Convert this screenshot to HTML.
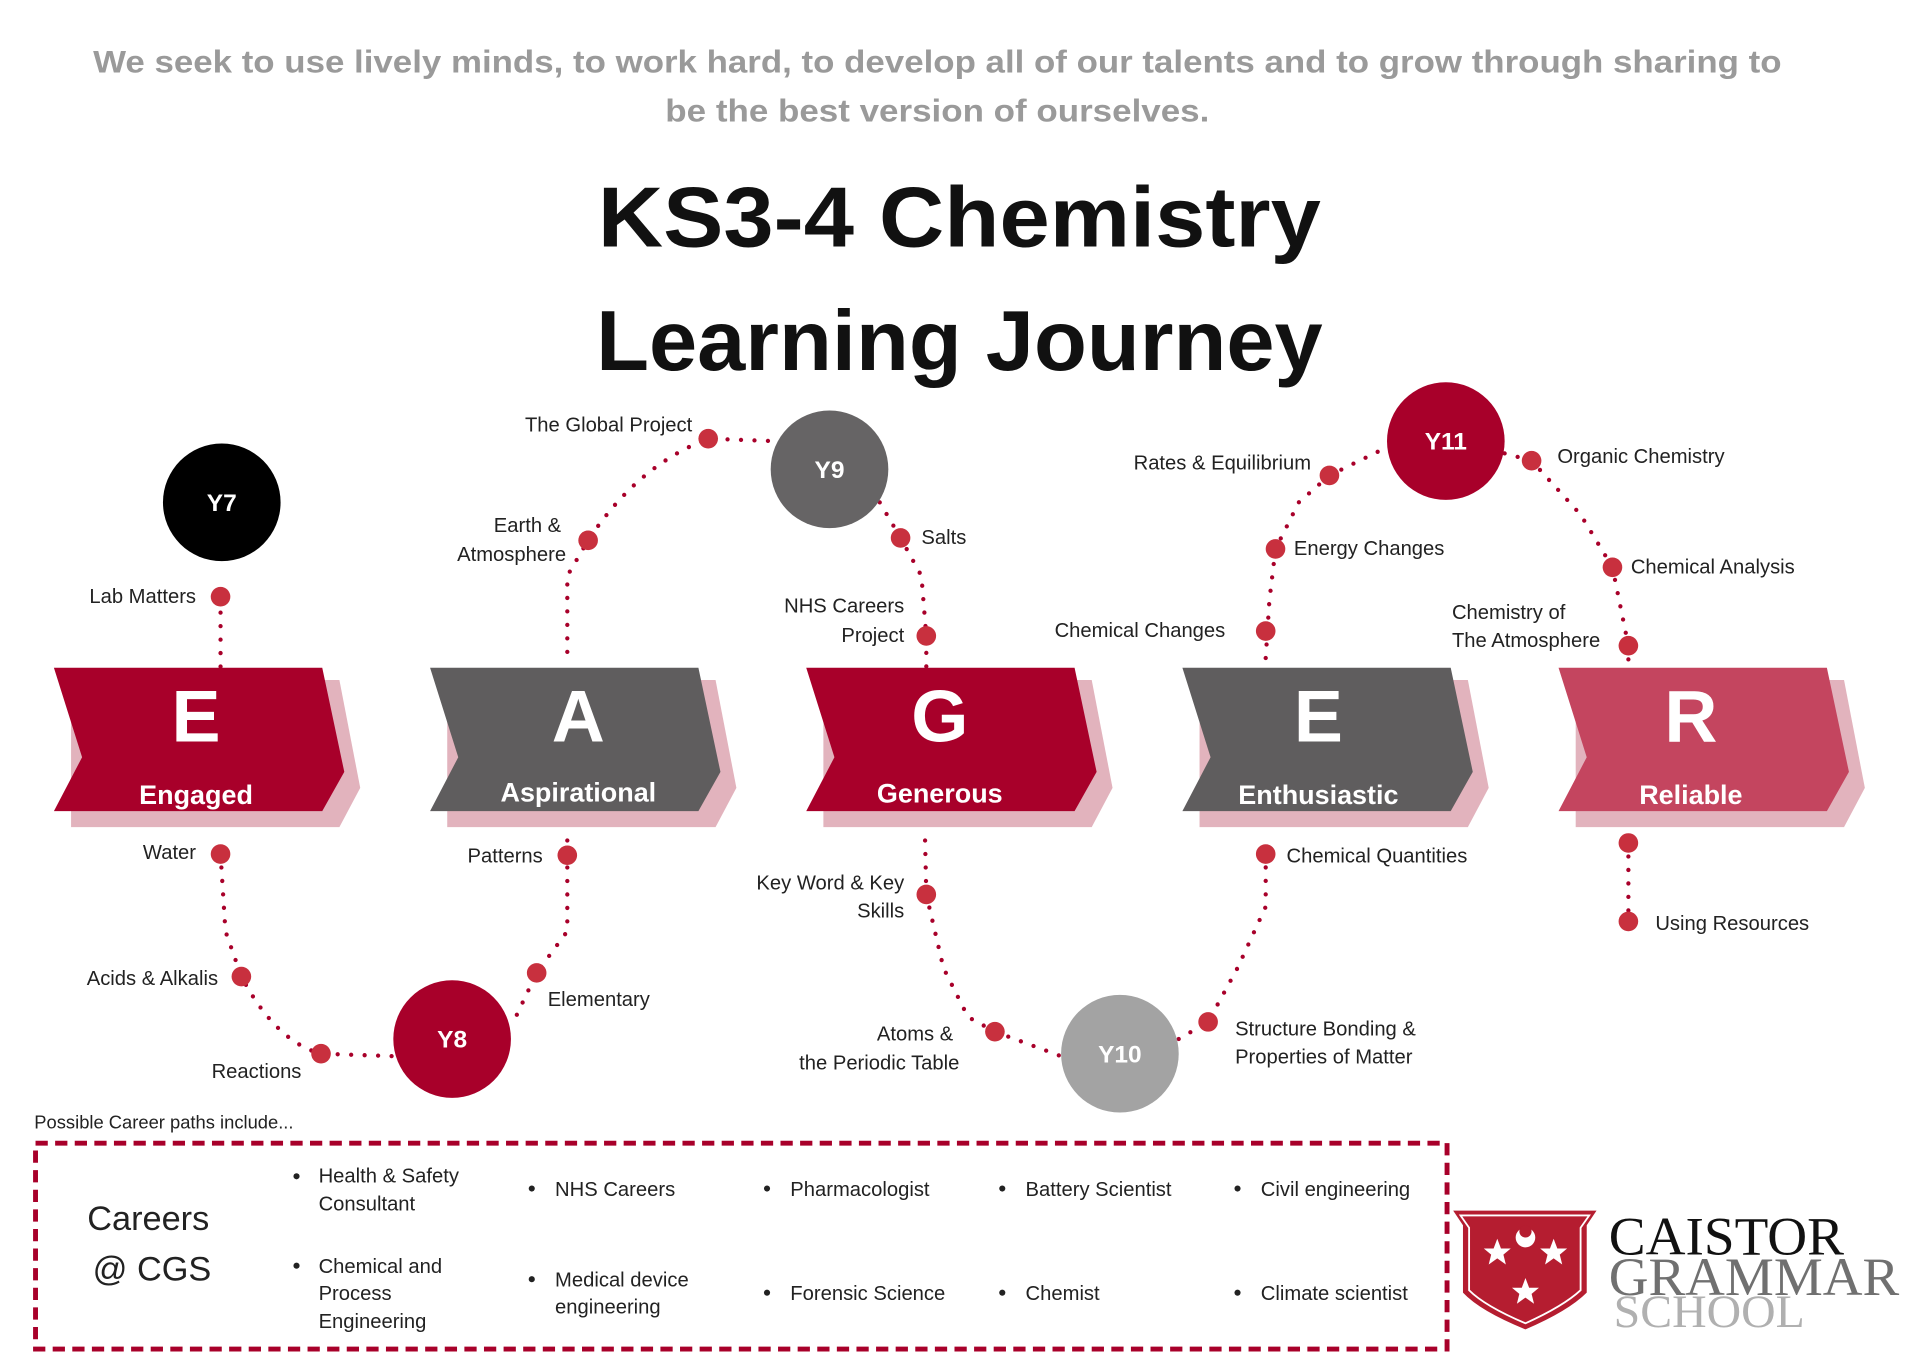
<!DOCTYPE html>
<html><head><meta charset="utf-8"><style>
html,body{margin:0;padding:0;background:#fff}
svg{display:block}
text{font-family:"Liberation Sans",sans-serif}
text.serif{font-family:"Liberation Serif",serif}
.l{font-size:16.5px;fill:#222}
.y{font-size:20px;fill:#fff;font-weight:bold}
.big{font-size:60px;fill:#fff;font-weight:bold}
.w{font-size:22px;fill:#fff;font-weight:bold}
.dp{fill:none;stroke:#a8002a;stroke-width:3.5;stroke-linecap:round;stroke-dasharray:0 11}
.d{fill:#c8303e}
</style></head><body>
<svg width="1920" height="1357" viewBox="0 0 1567 1107.5" xmlns="http://www.w3.org/2000/svg">
<text x="765" y="59" text-anchor="middle" font-size="26" font-weight="bold" fill="#9a9a9a" textLength="1378" lengthAdjust="spacingAndGlyphs">We seek to use lively minds, to work hard, to develop all of our talents and to grow through sharing to</text>
<text x="765" y="99" text-anchor="middle" font-size="26" font-weight="bold" fill="#9a9a9a" textLength="444" lengthAdjust="spacingAndGlyphs">be the best version of ourselves.</text>
<text x="783" y="201" text-anchor="middle" font-size="70" font-weight="bold" fill="#111" textLength="590" lengthAdjust="spacingAndGlyphs">KS3-4 Chemistry</text>
<text x="783" y="302" text-anchor="middle" font-size="70" font-weight="bold" fill="#111" textLength="593" lengthAdjust="spacingAndGlyphs">Learning Journey</text>

<path class="dp" d="M180 500 L180 545"/>
<path class="dp" d="M180 697 L184 760 L197 797 Q225 850 262 860 L322 862"/>
<path class="dp" d="M463 532 L463 470 L480 441 Q520 380 578 358 L632 360"/>
<path class="dp" d="M718 410 L735 439 L752 470 L756 519 L756 545"/>
<path class="dp" d="M463 686 L463 760 L438 794 L420 832"/>
<path class="dp" d="M755 686 L756 730 L770 790 L790 830 L812 842 L866 862"/>
<path class="dp" d="M962 848 L986 834 L1010 790 L1033 740 L1033 686"/>
<path class="dp" d="M1033 537 L1036 490 L1041 448 L1060 410 L1085 388 L1132 365"/>
<path class="dp" d="M1228 370 L1250 376 L1290 420 L1316 463 L1329 527 L1329 545"/>
<path class="dp" d="M1329 688 L1329 752"/>

<g>
<polygon points="58,555 277,555 294,643 277,675 58,675" fill="#e2b3bd"/>
<polygon points="44,545 263,545 281,630 263,662 44,662 67,618" fill="#a8002a"/>
<text class="big" x="160" y="605" text-anchor="middle">E</text>
<text class="w" x="160" y="656" text-anchor="middle">Engaged</text>
</g>
<g transform="translate(307,0)">
<polygon points="58,555 277,555 294,643 277,675 58,675" fill="#e2b3bd"/>
<polygon points="44,545 263,545 281,630 263,662 44,662 67,618" fill="#5f5d5e"/>
<text class="big" x="165" y="605" text-anchor="middle">A</text>
<text class="w" x="165" y="654" text-anchor="middle">Aspirational</text>
</g>
<g transform="translate(614,0)">
<polygon points="58,555 277,555 294,643 277,675 58,675" fill="#e2b3bd"/>
<polygon points="44,545 263,545 281,630 263,662 44,662 67,618" fill="#a8002a"/>
<text class="big" x="153" y="605" text-anchor="middle">G</text>
<text class="w" x="153" y="655" text-anchor="middle">Generous</text>
</g>
<g transform="translate(921,0)">
<polygon points="58,555 277,555 294,643 277,675 58,675" fill="#e2b3bd"/>
<polygon points="44,545 263,545 281,630 263,662 44,662 67,618" fill="#5f5d5e"/>
<text class="big" x="155" y="605" text-anchor="middle">E</text>
<text class="w" x="155" y="656" text-anchor="middle">Enthusiastic</text>
</g>
<g transform="translate(1228,0)">
<polygon points="58,555 277,555 294,643 277,675 58,675" fill="#e2b3bd"/>
<polygon points="44,545 263,545 281,630 263,662 44,662 67,618" fill="#c4455f"/>
<text class="big" x="152" y="605" text-anchor="middle">R</text>
<text class="w" x="152" y="656" text-anchor="middle">Reliable</text>
</g>

<circle cx="181" cy="410" r="48" fill="#000"/><text class="y" x="181" y="417" text-anchor="middle">Y7</text>
<circle cx="677" cy="383" r="48" fill="#666465"/><text class="y" x="677" y="390" text-anchor="middle">Y9</text>
<circle cx="1180" cy="360" r="48" fill="#a8002a"/><text class="y" x="1180" y="367" text-anchor="middle">Y11</text>
<circle cx="369" cy="848" r="48" fill="#a8002a"/><text class="y" x="369" y="855" text-anchor="middle">Y8</text>
<circle cx="914" cy="860" r="48" fill="#a3a3a3"/><text class="y" x="914" y="867" text-anchor="middle">Y10</text>

<g class="d">
<circle cx="180" cy="487" r="8"/><circle cx="180" cy="697" r="8"/><circle cx="197" cy="797" r="8"/><circle cx="262" cy="860" r="8"/>
<circle cx="463" cy="698" r="8"/><circle cx="438" cy="794" r="8"/><circle cx="480" cy="441" r="8"/><circle cx="578" cy="358" r="8"/>
<circle cx="735" cy="439" r="8"/><circle cx="756" cy="519" r="8"/><circle cx="756" cy="730" r="8"/><circle cx="812" cy="842" r="8"/>
<circle cx="1033" cy="697" r="8"/><circle cx="986" cy="834" r="8"/><circle cx="1033" cy="515" r="8"/><circle cx="1041" cy="448" r="8"/>
<circle cx="1085" cy="388" r="8"/><circle cx="1250" cy="376" r="8"/><circle cx="1316" cy="463" r="8"/><circle cx="1329" cy="527" r="8"/>
<circle cx="1329" cy="688" r="8"/><circle cx="1329" cy="752" r="8"/>
</g>

<g class="l">
<text x="160" y="492" text-anchor="end">Lab Matters</text>
<text x="160" y="701" text-anchor="end">Water</text>
<text x="178" y="804" text-anchor="end">Acids &amp; Alkalis</text>
<text x="246" y="880" text-anchor="end">Reactions</text>
<text x="443" y="704" text-anchor="end">Patterns</text>
<text x="447" y="821">Elementary</text>
<text x="458" y="434" text-anchor="end">Earth &amp;</text>
<text x="462" y="458" text-anchor="end">Atmosphere</text>
<text x="565" y="352" text-anchor="end">The Global Project</text>
<text x="752" y="444">Salts</text>
<text x="738" y="500" text-anchor="end">NHS Careers</text>
<text x="738" y="524" text-anchor="end">Project</text>
<text x="738" y="726" text-anchor="end">Key Word &amp; Key</text>
<text x="738" y="749" text-anchor="end">Skills</text>
<text x="778" y="849" text-anchor="end">Atoms &amp;</text>
<text x="783" y="873" text-anchor="end">the Periodic Table</text>
<text x="1050" y="704">Chemical Quantities</text>
<text x="1008" y="845">Structure Bonding &amp;</text>
<text x="1008" y="868">Properties of Matter</text>
<text x="1000" y="520" text-anchor="end">Chemical Changes</text>
<text x="1056" y="453">Energy Changes</text>
<text x="1070" y="383" text-anchor="end">Rates &amp; Equilibrium</text>
<text x="1271" y="378">Organic Chemistry</text>
<text x="1331" y="468">Chemical Analysis</text>
<text x="1185" y="505">Chemistry of</text>
<text x="1185" y="528">The Atmosphere</text>
<text x="1351" y="759">Using Resources</text>
</g>

<text x="28" y="921" font-size="15" fill="#222">Possible Career paths include...</text>
<rect x="29" y="933" width="1152" height="168" fill="none" stroke="#a8002a" stroke-width="4" stroke-dasharray="10 6"/>
<text x="121" y="1004" text-anchor="middle" font-size="28" fill="#222">Careers</text>
<text x="124" y="1045" text-anchor="middle" font-size="28" fill="#222">@ CGS</text>
<g class="l">
<circle cx="242" cy="960" r="2.5" fill="#222"/><text x="260" y="965">Health &amp; Safety</text><text x="260" y="988">Consultant</text>
<circle cx="242" cy="1033" r="2.5" fill="#222"/><text x="260" y="1039">Chemical and</text><text x="260" y="1061">Process</text><text x="260" y="1084">Engineering</text>
<circle cx="434" cy="970" r="2.5" fill="#222"/><text x="453" y="976">NHS Careers</text>
<circle cx="434" cy="1044" r="2.5" fill="#222"/><text x="453" y="1050">Medical device</text><text x="453" y="1072">engineering</text>
<circle cx="626" cy="970" r="2.5" fill="#222"/><text x="645" y="976">Pharmacologist</text>
<circle cx="626" cy="1055" r="2.5" fill="#222"/><text x="645" y="1061">Forensic Science</text>
<circle cx="818" cy="970" r="2.5" fill="#222"/><text x="837" y="976">Battery Scientist</text>
<circle cx="818" cy="1055" r="2.5" fill="#222"/><text x="837" y="1061">Chemist</text>
<circle cx="1010" cy="970" r="2.5" fill="#222"/><text x="1029" y="976">Civil engineering</text>
<circle cx="1010" cy="1055" r="2.5" fill="#222"/><text x="1029" y="1061">Climate scientist</text>
</g>

<path d="M1186 988 L1303 988 L1295 1000 L1295 1055 Q1280 1070 1245 1085 Q1208 1070 1194 1055 L1194 1000 Z" fill="#b51d30"/>
<path d="M1192 992 L1297 992 L1290 1002 L1290 1053 Q1276 1066 1245 1080 Q1212 1066 1199 1053 L1199 1002 Z" fill="none" stroke="#fff" stroke-width="1.5"/>
<circle cx="1245" cy="1010" r="8" fill="#fff"/><circle cx="1245" cy="1005" r="5" fill="#b51d30"/>
<g fill="#fff">
<polygon points="1222,1011 1225,1019 1233,1019 1227,1024 1229,1032 1222,1027 1215,1032 1217,1024 1211,1019 1219,1019"/>
<polygon points="1268,1011 1271,1019 1279,1019 1273,1024 1275,1032 1268,1027 1261,1032 1263,1024 1257,1019 1265,1019"/>
<polygon points="1245,1043 1248,1051 1256,1051 1250,1056 1252,1064 1245,1059 1238,1064 1240,1056 1234,1051 1242,1051"/>
</g>
<text class="serif" x="1313" y="1024" font-size="44" fill="#111" textLength="192" lengthAdjust="spacingAndGlyphs">CAISTOR</text>
<text class="serif" x="1313" y="1057" font-size="44" fill="#707070" textLength="237" lengthAdjust="spacingAndGlyphs">GRAMMAR</text>
<text class="serif" x="1317" y="1083" font-size="38" fill="#b0b0b0" textLength="156" lengthAdjust="spacingAndGlyphs">SCHOOL</text>
</svg>
</body></html>
